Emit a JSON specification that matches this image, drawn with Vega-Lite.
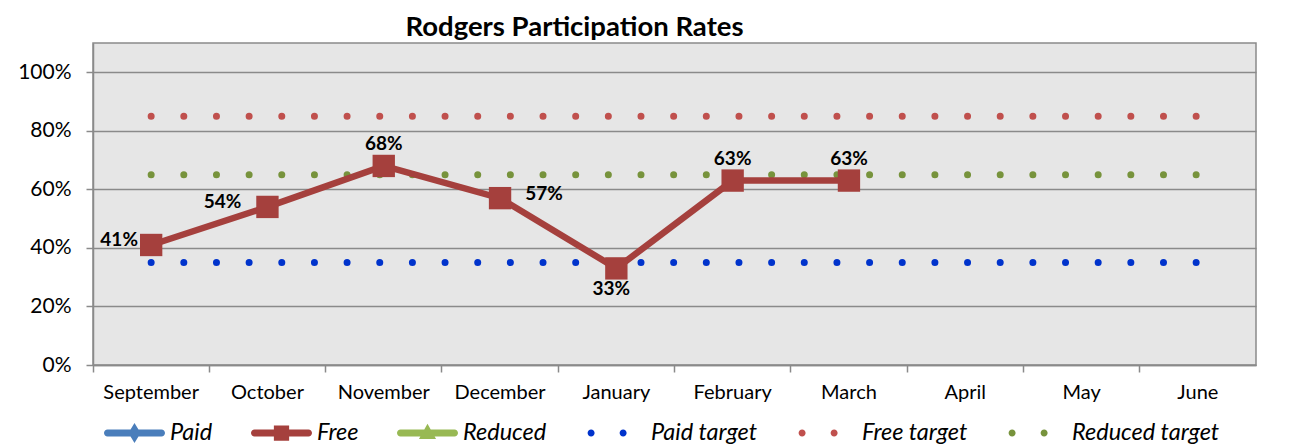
{
  "$schema": "https://vega.github.io/schema/vega-lite/v6.json",
  "width": 1163,
  "height": 322,
  "autosize": {"type": "none"},
  "padding": {"left": 93, "top": 43, "right": 42, "bottom": 82},
  "background": "white",
  "title": {
    "text": "Rodgers Participation Rates",
    "font": "Lato",
    "fontSize": 27.5,
    "fontWeight": "bold",
    "color": "black",
    "anchor": "middle",
    "frame": "group",
    "dx": -100,
    "offset": 2
  },
  "datasets": {
    "free": [
      {"month": "September", "series": "Free", "value": 0.41},
      {"month": "October", "series": "Free", "value": 0.54},
      {"month": "November", "series": "Free", "value": 0.68},
      {"month": "December", "series": "Free", "value": 0.57},
      {"month": "January", "series": "Free", "value": 0.33},
      {"month": "February", "series": "Free", "value": 0.63},
      {"month": "March", "series": "Free", "value": 0.63}
    ],
    "targets": [
      {"month": "September", "series": "Paid target", "value": 0.35},
      {"month": "October", "series": "Paid target", "value": 0.35},
      {"month": "November", "series": "Paid target", "value": 0.35},
      {"month": "December", "series": "Paid target", "value": 0.35},
      {"month": "January", "series": "Paid target", "value": 0.35},
      {"month": "February", "series": "Paid target", "value": 0.35},
      {"month": "March", "series": "Paid target", "value": 0.35},
      {"month": "April", "series": "Paid target", "value": 0.35},
      {"month": "May", "series": "Paid target", "value": 0.35},
      {"month": "June", "series": "Paid target", "value": 0.35},
      {"month": "September", "series": "Free target", "value": 0.85},
      {"month": "October", "series": "Free target", "value": 0.85},
      {"month": "November", "series": "Free target", "value": 0.85},
      {"month": "December", "series": "Free target", "value": 0.85},
      {"month": "January", "series": "Free target", "value": 0.85},
      {"month": "February", "series": "Free target", "value": 0.85},
      {"month": "March", "series": "Free target", "value": 0.85},
      {"month": "April", "series": "Free target", "value": 0.85},
      {"month": "May", "series": "Free target", "value": 0.85},
      {"month": "June", "series": "Free target", "value": 0.85},
      {"month": "September", "series": "Reduced target", "value": 0.65},
      {"month": "October", "series": "Reduced target", "value": 0.65},
      {"month": "November", "series": "Reduced target", "value": 0.65},
      {"month": "December", "series": "Reduced target", "value": 0.65},
      {"month": "January", "series": "Reduced target", "value": 0.65},
      {"month": "February", "series": "Reduced target", "value": 0.65},
      {"month": "March", "series": "Reduced target", "value": 0.65},
      {"month": "April", "series": "Reduced target", "value": 0.65},
      {"month": "May", "series": "Reduced target", "value": 0.65},
      {"month": "June", "series": "Reduced target", "value": 0.65}
    ]
  },
  "encoding": {
    "x": {
      "field": "month",
      "type": "nominal",
      "title": null,
      "sort": ["September", "October", "November", "December", "January", "February", "March", "April", "May", "June"],
      "scale": {
        "type": "band",
        "domain": ["September", "October", "November", "December", "January", "February", "March", "April", "May", "June"],
        "paddingInner": 0,
        "paddingOuter": 0
      },
      "axis": {
        "bandPosition": 0,
        "labelAngle": 0,
        "labelFont": "Lato",
        "labelFontSize": 20,
        "labelColor": "black",
        "labelPadding": 10,
        "tickSize": 7,
        "tickColor": "#8a8a8a",
        "tickWidth": 1.5,
        "domainColor": "#8a8a8a",
        "domainWidth": 1.5,
        "grid": false
      }
    },
    "y": {
      "field": "value",
      "type": "quantitative",
      "title": null,
      "scale": {"domain": [0, 1.1], "nice": false},
      "axis": {
        "values": [0, 0.2, 0.4, 0.6, 0.8, 1],
        "format": ".0%",
        "labelFont": "Lato",
        "labelFontSize": 21,
        "labelColor": "black",
        "labelPadding": 15,
        "tickSize": 7,
        "tickColor": "#8a8a8a",
        "tickWidth": 1.5,
        "domainColor": "#8a8a8a",
        "domainWidth": 1.5,
        "grid": true,
        "gridColor": "#8a8a8a",
        "gridWidth": 1.5
      }
    }
  },
  "layer": [
    {
      "data": {"name": "targets"},
      "mark": {"type": "line", "strokeDash": [0.01, 32.646], "strokeCap": "round", "strokeWidth": 7},
      "encoding": {
        "color": {
          "field": "series",
          "type": "nominal",
          "scale": {
            "domain": ["Paid", "Free", "Reduced", "Paid target", "Free target", "Reduced target"],
            "range": ["#4a7ebb", "#a5403d", "#98b954", "#0033cc", "#c0504d", "#77933c"]
          },
          "legend": {
            "orient": "none",
            "legendX": 11,
            "legendY": 359.5,
            "direction": "horizontal",
            "columns": 6,
            "columnPadding": 38,
            "rowPadding": 0,
            "padding": 0,
            "title": null,
            "symbolSize": 3721,
            "labelOffset": 5,
            "labelFont": "Lato",
            "labelFontStyle": "italic",
            "labelFontSize": 23.5,
            "labelColor": "black",
            "labelLimit": 300,
            "encode": {
              "symbols": {
                "update": {
                  "shape": {"signal": "datum.value === 'Paid' ? 'M-0.885,-0.115L0.885,-0.115A0.115,0.115 0 0 1 0.885,0.115L-0.885,0.115A0.115,0.115 0 0 1 -0.885,-0.115Z M0,-0.33L0.2,0L0,0.33L-0.2,0Z' : datum.value === 'Free' ? 'M-0.885,-0.115L0.885,-0.115A0.115,0.115 0 0 1 0.885,0.115L-0.885,0.115A0.115,0.115 0 0 1 -0.885,-0.115Z M-0.25,-0.25L0.25,-0.25L0.25,0.25L-0.25,0.25Z' : datum.value === 'Reduced' ? 'M-0.885,-0.115L0.885,-0.115A0.115,0.115 0 0 1 0.885,0.115L-0.885,0.115A0.115,0.115 0 0 1 -0.885,-0.115Z M0,-0.3L0.28,0.2L-0.28,0.2Z' : 'M-0.915,0A0.115,0.115 0 1 0 -0.685,0A0.115,0.115 0 1 0 -0.915,0Z M0.135,0A0.115,0.115 0 1 0 0.365,0A0.115,0.115 0 1 0 0.135,0Z'"},
                  "fill": {"scale": "color", "field": "value"},
                  "stroke": {"value": "transparent"},
                  "strokeWidth": {"value": 0},
                  "opacity": {"value": 1},
                  "size": {"value": 3721}
                }
              }
            }
          }
        }
      }
    },
    {
      "data": {"name": "free"},
      "mark": {"type": "line", "strokeWidth": 6.5},
      "encoding": {
        "color": {
          "field": "series",
          "type": "nominal",
          "scale": {
            "domain": ["Paid", "Free", "Reduced", "Paid target", "Free target", "Reduced target"],
            "range": ["#4a7ebb", "#a5403d", "#98b954", "#0033cc", "#c0504d", "#77933c"]
          }
        }
      }
    },
    {
      "data": {"name": "free"},
      "mark": {"type": "square", "size": 500, "color": "#a5403d", "filled": true, "opacity": 1}
    },
    {
      "data": {"name": "free"},
      "transform": [{"filter": "datum.month === 'September'"}],
      "mark": {"type": "text", "font": "Lato", "fontSize": 19, "fontWeight": "bold", "color": "black", "align": "center", "baseline": "middle", "dx": -32, "dy": -5},
      "encoding": {"text": {"field": "value", "type": "quantitative", "format": ".0%"}}
    },
    {
      "data": {"name": "free"},
      "transform": [{"filter": "datum.month === 'October'"}],
      "mark": {"type": "text", "font": "Lato", "fontSize": 19, "fontWeight": "bold", "color": "black", "align": "center", "baseline": "middle", "dx": -45, "dy": -5},
      "encoding": {"text": {"field": "value", "type": "quantitative", "format": ".0%"}}
    },
    {
      "data": {"name": "free"},
      "transform": [{"filter": "datum.month === 'November' || datum.month === 'February' || datum.month === 'March'"}],
      "mark": {"type": "text", "font": "Lato", "fontSize": 19, "fontWeight": "bold", "color": "black", "align": "center", "baseline": "middle", "dx": 0, "dy": -22},
      "encoding": {"text": {"field": "value", "type": "quantitative", "format": ".0%"}}
    },
    {
      "data": {"name": "free"},
      "transform": [{"filter": "datum.month === 'December'"}],
      "mark": {"type": "text", "font": "Lato", "fontSize": 19, "fontWeight": "bold", "color": "black", "align": "center", "baseline": "middle", "dx": 44, "dy": -4},
      "encoding": {"text": {"field": "value", "type": "quantitative", "format": ".0%"}}
    },
    {
      "data": {"name": "free"},
      "transform": [{"filter": "datum.month === 'January'"}],
      "mark": {"type": "text", "font": "Lato", "fontSize": 19, "fontWeight": "bold", "color": "black", "align": "center", "baseline": "middle", "dx": -5, "dy": 21},
      "encoding": {"text": {"field": "value", "type": "quantitative", "format": ".0%"}}
    }
  ],
  "config": {
    "view": {"fill": "#e6e6e6", "stroke": "#8a8a8a", "strokeWidth": 1.5}
  }
}
